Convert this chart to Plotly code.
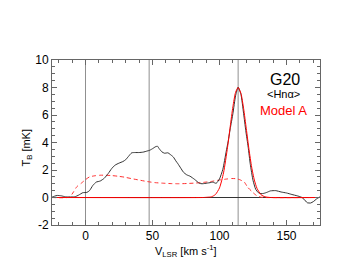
import plotly.graph_objects as go

# Observed spectrum (black)
v_obs = [-25, -23, -21, -18, -15, -12, -8, -5, -2, 1, 3, 5.5, 8, 11, 14, 17, 19.5, 22, 25, 28,
         30, 32, 34.5, 37, 40, 43, 46, 48, 50.5, 52, 53.7, 55, 57, 59, 61.5, 63, 65.5, 67.5, 69, 71,
         73, 75.5, 78, 81.5, 85, 87, 89, 91, 93, 95, 97.5, 100, 102.5, 105, 106.5, 108, 110, 112,
         113.9, 116, 118, 119.6, 121.4, 123, 125, 127, 129, 131, 133, 135.5, 138, 142, 146, 150,
         154, 158, 161, 163, 165.5, 168, 170, 172.5, 175]
t_obs = [0.02, 0.1, 0.15, 0.12, 0.05, 0.04, 0.05, 0.18, 0.35, 0.37, 0.5, 0.88, 1.12, 1.2, 1.4, 1.75,
         2.1, 2.35, 2.5, 2.62, 2.75, 2.98, 3.25, 3.27, 3.27, 3.3, 3.38, 3.44, 3.58, 3.68, 3.73, 3.55,
         3.32, 3.22, 3.25, 3.15, 2.95, 2.65, 2.45, 2.15, 1.85, 1.65, 1.55, 1.31, 1.03, 1.0, 1.02,
         1.05, 1.08, 1.12, 1.03, 1.35, 2.05, 3.35, 4.1, 5.0, 6.1, 7.4, 8.02, 7.5, 6.1, 4.87, 3.66,
         2.4, 1.25, 0.6, 0.35, 0.28, 0.3, 0.38, 0.48, 0.5, 0.4, 0.33, 0.22, 0.12, 0.03, -0.12,
         -0.38, -0.4, -0.3, -0.1, 0.05]

# Model A narrow component (red solid)
v_model = [-25, 88, 91, 94, 97, 100, 103, 106, 108, 110, 112, 113.9, 116, 118, 120, 122, 124,
           126, 128, 131, 134, 138, 175]
t_model = [0, 0, 0.02, 0.05, 0.22, 0.7, 1.79, 3.65, 5.16, 6.6, 7.65, 8.0, 7.57, 6.47, 5.0, 3.5,
           2.21, 1.27, 0.66, 0.2, 0.05, 0, 0]

# Model A broad component (red dashed)
v_broad = [-25, -12, -9, -6.5, -3, -0.5, 3, 7, 11, 15, 19, 24, 29, 34, 40, 46, 52, 58, 64, 70,
           76, 82, 88, 94, 100, 105, 109, 112, 115, 118.5, 121, 124, 126, 128, 131, 133, 175]
t_broad = [0, 0.03, 0.4, 0.78, 1.05, 1.26, 1.5, 1.58, 1.62, 1.62, 1.6, 1.55, 1.48, 1.38, 1.27,
           1.16, 1.08, 1.04, 1.01, 1.0, 1.02, 1.05, 1.1, 1.17, 1.27, 1.34, 1.38, 1.37, 1.3, 1.12,
           0.75, 0.45, 0.27, 0.12, 0.02, 0, 0]

vlines = [0, 47.5, 113.9]
x_range = [-25, 175]
y_range = [-2, 10]
x_ticks = [0, 50, 100, 150]
y_ticks = [-2, 0, 2, 4, 6, 8, 10]

FONT = "Liberation Sans, Arial, sans-serif"

fig = go.Figure()
fig.add_trace(go.Scatter(x=v_broad, y=t_broad, mode="lines",
                         line=dict(color="#ff3030", width=1, dash="4px,3px", shape="spline", smoothing=0.6)))
fig.add_trace(go.Scatter(x=v_obs, y=t_obs, mode="lines",
                         line=dict(color="#333333", width=1, shape="spline", smoothing=0.5)))
fig.add_trace(go.Scatter(x=v_model, y=t_model, mode="lines",
                         line=dict(color="#ff0000", width=1, shape="spline", smoothing=0.6)))

for v in vlines:
    fig.add_shape(type="line", xref="x", yref="paper", x0=v, x1=v, y0=0, y1=1,
                  line=dict(color="#909090", width=1), layer="below")
fig.add_shape(type="line", xref="paper", yref="y", x0=0, x1=1, y0=0, y1=0,
              line=dict(color="#333333", width=1), layer="below")

axis_common = dict(showgrid=False, zeroline=False, showline=True, linecolor="#666666",
                   linewidth=1, mirror="allticks", ticks="inside", ticklen=5,
                   tickcolor="#666666", tickfont=dict(family=FONT, size=12, color="black"))

fig.update_xaxes(range=x_range, tickvals=x_ticks, ticktext=[str(t) for t in x_ticks],
                 minor=dict(ticks="inside", dtick=10, tick0=0, ticklen=3, tickcolor="#666666"),
                 **axis_common)
fig.update_yaxes(range=y_range, tickvals=y_ticks, ticktext=[str(t) for t in y_ticks],
                 minor=dict(ticks="inside", dtick=0.5, tick0=0, ticklen=3, tickcolor="#666666"),
                 **axis_common)

ann = [
    dict(text="G20", x=0.869, y=0.879, size=16, color="black"),
    dict(text="&lt;Hnα&gt;", x=0.862, y=0.794, size=11, color="black"),
    dict(text="Model A", x=0.862, y=0.691, size=13, color="#ff0000"),
]
for a in ann:
    fig.add_annotation(text=a["text"], xref="paper", yref="paper", x=a["x"], y=a["y"],
                       xanchor="center", yanchor="middle", showarrow=False,
                       font=dict(family=FONT, size=a["size"], color=a["color"]))

fig.add_annotation(text="V<sub>LSR</sub> [km s<sup>-1</sup>]", xref="paper", yref="paper",
                   x=0.5, y=-0.158, xanchor="center", yanchor="middle", showarrow=False,
                   font=dict(family=FONT, size=11, color="black"))
fig.add_annotation(text="T<sub>B</sub> [mK]", xref="paper", yref="paper",
                   x=-0.093, y=0.47, xanchor="center", yanchor="middle", showarrow=False,
                   textangle=-90, font=dict(family=FONT, size=11, color="black"))

# page body adds an 8px offset, so the figure is sized to keep the plot where the reference has it
fig.update_layout(width=344, height=264, margin=dict(l=44, r=32, t=52, b=47),
                  paper_bgcolor="white", plot_bgcolor="white", showlegend=False)

fig.write_html("out.html")
